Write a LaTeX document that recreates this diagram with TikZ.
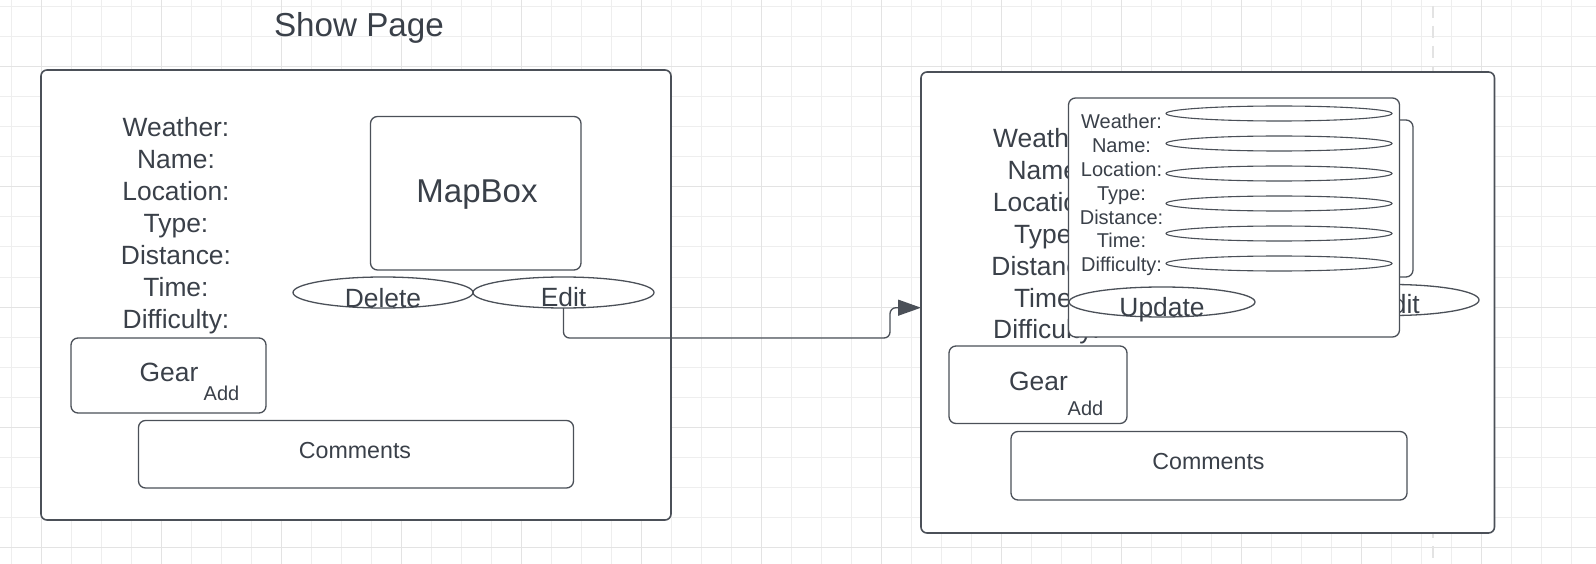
\documentclass[tikz,border=0pt]{standalone}
\usepackage{fontspec}
\setmainfont{Liberation Sans}
\usetikzlibrary{shapes.geometric,arrows.meta,calc}
\definecolor{ink}{HTML}{3A4049}
\definecolor{edgec}{HTML}{4B5058}
\definecolor{gridminor}{HTML}{EEEEEE}
\definecolor{gridmajor}{HTML}{E3E3E3}
\begin{document}
\begin{tikzpicture}[x=1pt,y=-1pt,
  box/.style={rectangle, draw=edgec, fill=white, line width=1.3pt, rounded corners=7pt, inner sep=0pt, outer sep=0pt},
  frame/.style={box, line width=1.6pt, rounded corners=6pt},
  oval/.style={ellipse, draw=edgec, fill=white, line width=1.3pt, inner sep=0pt, outer sep=0pt},
  field/.style={ellipse, draw=edgec, line width=1.1pt, inner sep=0pt, outer sep=0pt, minimum width=226pt, minimum height=15pt},
  txt/.style={text=ink, inner sep=0pt, outer sep=0pt, anchor=base},
  big/.style={txt, font=\fontsize{26.4}{31.7}\selectfont},
  small/.style={txt, font=\fontsize{20}{24}\selectfont},
  conn/.style={draw=edgec, line width=1.3pt, rounded corners=6pt, -{Triangle[length=23pt,width=16pt]}}
]
\useasboundingbox (0,0) rectangle (1596,564);
\fill[white] (0,0) rectangle (1596,564);
% grid
\foreach \gx in {11,41,...,1591} \draw[gridminor, line width=1pt] (\gx,0) -- (\gx,564);
\foreach \gy in {7,37,...,557} \draw[gridminor, line width=1pt] (0,\gy) -- (1596,\gy);
\foreach \gx in {41,161,...,1591} \draw[gridmajor, line width=1pt] (\gx,0) -- (\gx,564);
\foreach \gy in {67,187,...,557} \draw[gridmajor, line width=1pt] (0,\gy) -- (1596,\gy);
\draw[gridmajor, line width=2pt, dash pattern=on 12pt off 8pt] (1433,6) -- (1433,564);

% title
\node[txt, font=\fontsize{33.2}{40}\selectfont] (title) at (359,36.5) {Show Page};

% left frame
\node[frame, minimum width=630pt, minimum height=450pt] (lframe) at (356,295) {};
\foreach \t [count=\i] in {Weather:,Name:,Location:,Type:,Distance:,Time:,Difficulty:}
  \node[big] (L\i) at (176,{137+31.95*(\i-1)}) {\t};
\node[box, minimum width=210.5pt, minimum height=153.5pt] (lmap) at (475.75,193.25) {};
\node[txt, font=\fontsize{33}{40}\selectfont] (lmaptxt) at (477,202.5) {MapBox};
\node[oval, minimum width=180pt, minimum height=31pt] (ldel) at (383,292.5) {};
\node[oval, minimum width=181pt, minimum height=31pt] (ledit) at (563.5,292.5) {};
\node[big] (ldeltxt) at ([yshift=1pt]ldel.south) {Delete};
\node[big] (ledittxt) at ([yshift=1.5pt]ledit.south) {Edit};
\node[box, minimum width=195pt, minimum height=75pt] (lgear) at (168.5,375.5) {};
\node[big] (lgeartxt) at (169,381) {Gear};
\node[small] (laddtxt) at (221.5,400) {Add};
\node[box, minimum width=435pt, minimum height=67.5pt] (lcom) at (356,454.25) {};
\node[txt, font=\fontsize{23.2}{28}\selectfont] (lcomtxt) at (355,458.5) {Comments};

% right frame
\node[frame, minimum width=573.5pt, minimum height=461pt] (rframe) at (1207.75,302.5) {};
\foreach \t [count=\i] in {Weather:,Name:,Location:,Type:,Distance:,Time:,Difficulty:}
  \node[big] (R\i) at (1046.5,{147.5+31.9*(\i-1)}) {\t};
\node[box, minimum width=210pt, minimum height=157pt] (rmap) at (1308,198.5) {};
\node[oval, minimum width=174pt, minimum height=31pt] (redit) at (1392,300) {};
\node[big] (redittxt) at (1397,313) {Edit};
\node[box, minimum width=178pt, minimum height=77.5pt] (rgear) at (1038,384.75) {};
\node[big] (rgeartxt) at (1038.5,390.7) {Gear};
\node[small] (raddtxt) at (1085.5,415) {Add};
\node[box, minimum width=396pt, minimum height=68.5pt] (rcom) at (1209,465.75) {};
\node[txt, font=\fontsize{23.2}{28}\selectfont] (rcomtxt) at (1208.5,469.3) {Comments};

% popup
\node[box, minimum width=331pt, minimum height=239pt] (pop) at (1234,217.5) {};
\foreach \t [count=\i] in {Weather:,Name:,Location:,Type:,Distance:,Time:,Difficulty:}
  \node[small] (P\i) at (1121.5,{128.7+23.85*(\i-1)}) {\t};
\foreach \i in {1,...,6}
  \node[field] (F\i) at (1279,{113.5+30*(\i-1)}) {};
\node[oval, minimum width=186pt, minimum height=30pt] (pupd) at (1162,302) {};
\node[big] (pupdtxt) at (1162,316) {Update};

% connector
\coordinate (tgt) at ([yshift=-5.2pt]rframe.west);
\draw[conn] (ledit.south) -- ++(0,30) -| ([xshift=-31pt]tgt) -- (tgt);
\end{tikzpicture}
\end{document}
